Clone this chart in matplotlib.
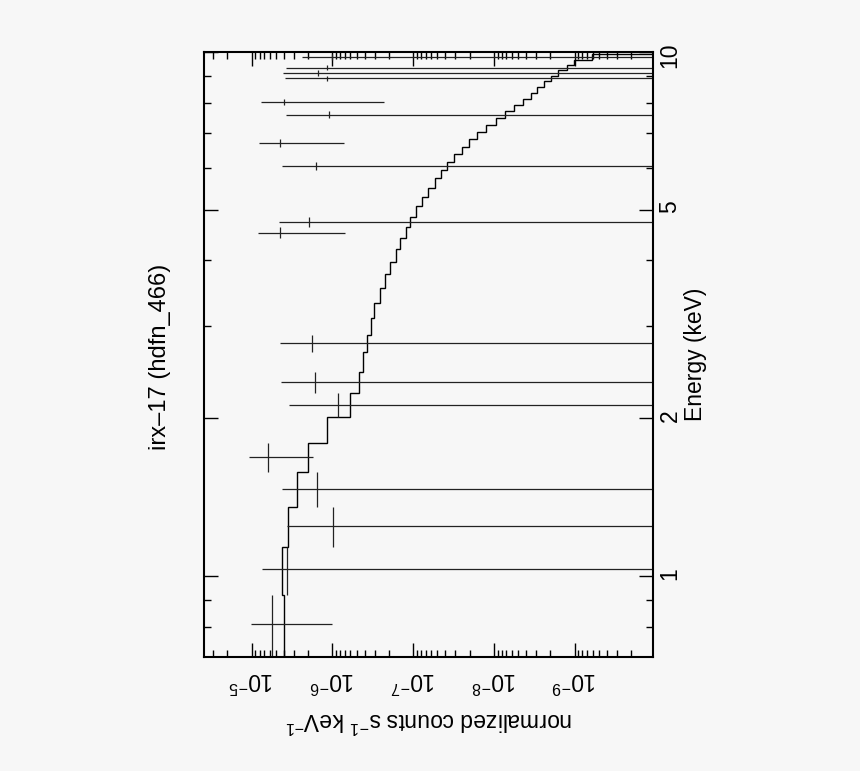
import matplotlib
matplotlib.use("Agg")
import matplotlib.pyplot as plt
from matplotlib.ticker import FixedLocator, FixedFormatter, LogLocator, NullFormatter

plt.rcParams["font.family"] = "Liberation Sans"
plt.rcParams["mathtext.fontset"] = "custom"
plt.rcParams["mathtext.rm"] = "Liberation Sans"
plt.rcParams["mathtext.it"] = "Liberation Sans:italic"
plt.rcParams["mathtext.bf"] = "Liberation Sans:bold"

# energy bin edges (keV) of the grouped spectrum
bin_edges = [0.70, 0.92, 1.137, 1.352, 1.575, 1.792, 2.009, 2.232, 2.447, 2.673,
             2.884, 3.102, 3.323, 3.540, 3.765, 3.979, 4.202, 4.412, 4.629, 4.850,
             5.083, 5.295, 5.508, 5.741, 5.954, 6.159, 6.380, 6.597, 6.814, 7.036,
             7.256, 7.474, 7.706, 7.913, 8.124, 8.341, 8.563, 8.804, 9.010, 9.227,
             9.437, 9.654, 9.912, 10.1]

# folded model (normalized counts s^-1 keV^-1) per bin
model = [3.95e-6, 4.19e-6, 3.55e-6, 2.77e-6, 2.00e-6, 1.16e-6, 6.08e-7, 4.74e-7,
         4.20e-7, 3.74e-7, 3.31e-7, 3.04e-7, 2.61e-7, 2.24e-7, 1.91e-7, 1.65e-7,
         1.45e-7, 1.24e-7, 1.09e-7, 9.18e-8, 7.74e-8, 6.53e-8, 5.43e-8, 4.58e-8,
         3.79e-8, 3.14e-8, 2.52e-8, 2.03e-8, 1.60e-8, 1.24e-8, 9.48e-9, 7.33e-9,
         5.62e-9, 4.40e-9, 3.50e-9, 2.89e-9, 2.39e-9, 1.96e-9, 1.61e-9, 1.25e-9,
         1.02e-9, 6.05e-10, 5.0e-11]

# data points: bin limits, rate and 1-sigma error
data_elo = [0.70, 0.92, 1.137, 1.352, 1.575, 2.009, 2.232, 2.673, 4.412, 4.629,
            5.954, 6.597, 7.474, 7.913, 8.804, 9.010, 9.227, 9.654]
data_ehi = [0.92, 1.137, 1.352, 1.575, 1.792, 2.232, 2.447, 2.884, 4.629, 4.850,
            6.159, 6.814, 7.706, 8.124, 9.010, 9.227, 9.437, 9.912]
data_rate = [5.56e-6, 3.68e-6, 9.8e-7, 1.54e-6, 6.24e-6, 8.6e-7, 1.65e-6, 1.80e-6,
             4.47e-6, 1.96e-6, 1.61e-6, 4.43e-6, 1.11e-6, 3.95e-6, 1.16e-6, 1.50e-6,
             1.16e-6, 1.0e-6]
data_err = [4.55e-6, 3.71e-6, 2.65e-6, 2.65e-6, 4.5e-6, 2.6e-6, 2.66e-6, 2.63e-6,
            3.77e-6, 2.63e-6, 2.61e-6, 3.72e-6, 2.63e-6, 3.72e-6, 2.71e-6, 2.64e-6,
            2.63e-6, 1.4e-6]

energy_ticks = [1, 2, 5, 10]
energy_minor = [0.8, 0.9, 3, 4, 6, 7, 8, 9]

bg = "#f7f7f7"
fig = plt.figure(figsize=(8.6, 7.71), dpi=100, facecolor=bg)
ax = fig.add_axes([0.2372, 0.1479, 0.5221, 0.7847], facecolor=bg)

# model as a step histogram (energy runs up the page)
ax.stairs(model, bin_edges, orientation="horizontal", baseline=None,
          color="black", linewidth=1.0)

# data crosses
ecen = [(lo + hi) / 2 for lo, hi in zip(data_elo, data_ehi)]
yerr = [[c - lo for c, lo in zip(ecen, data_elo)],
        [hi - c for c, hi in zip(ecen, data_ehi)]]
ax.errorbar(data_rate, ecen, xerr=data_err, yerr=yerr, fmt="none",
            ecolor="#222222", elinewidth=0.9, capsize=0)

ax.set_xscale("log")
ax.set_yscale("log")
ax.set_xlim(3.9e-5, 1.07e-10)
ax.set_ylim(0.70, 10.0)

ax.xaxis.set_major_locator(LogLocator(base=10))
ax.xaxis.set_minor_locator(LogLocator(base=10, subs=range(2, 10)))
ax.xaxis.set_minor_formatter(NullFormatter())
ax.yaxis.set_major_locator(FixedLocator(energy_ticks))
ax.yaxis.set_major_formatter(FixedFormatter([str(t) for t in energy_ticks]))
ax.yaxis.set_minor_locator(FixedLocator(energy_minor))
ax.yaxis.set_minor_formatter(NullFormatter())

ax.tick_params(which="both", direction="in", top=True, right=True, width=1.0,
               colors="black", labelsize=16.5)
ax.tick_params(which="major", length=10)
ax.tick_params(which="minor", length=5)
ax.tick_params(axis="x", labelrotation=180, pad=7)
ax.tick_params(axis="y", labelleft=False, labelright=True, labelrotation=90, pad=4)
for s in ax.spines.values():
    s.set_linewidth(1.5)

ax.set_xlabel(r"normalized counts s$^{-1}$ keV$^{-1}$", fontsize=16.5, rotation=180)
ax.xaxis.set_label_coords(0.5, -0.083)
ax.yaxis.set_label_position("right")
ax.set_ylabel("Energy (keV)", fontsize=16.5, rotation=90)
ax.yaxis.set_label_coords(1.068, 0.5)

fig.text(160 / 860, 1 - 357 / 771, "irx\u201317 (hdfn_466)", fontsize=17,
         rotation=90, ha="center", va="center")

fig.savefig("out.png", dpi=100, facecolor=bg)
